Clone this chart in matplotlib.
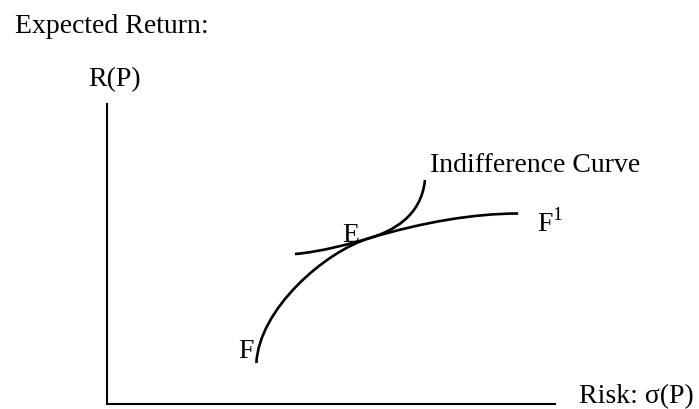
import matplotlib
matplotlib.use("Agg")
import matplotlib.pyplot as plt
from matplotlib.path import Path
from matplotlib.patches import PathPatch

plt.rcParams['font.family'] = ['Liberation Serif', 'DejaVu Serif']
plt.rcParams['mathtext.fontset'] = 'custom'
plt.rcParams['mathtext.rm'] = 'Liberation Serif'

# efficient frontier F -> E -> F1 (bezier control points, risk / return units)
frontier_x = [3.34, 3.40, 4.87, 5.87, 7.07, 8.20, 9.18]
frontier_y = [0.82, 1.90, 3.05, 3.32, 3.64, 3.81, 3.81]

# indifference curve, touching the frontier at E
indiff_x = [4.20, 4.75, 5.47, 5.87, 6.37, 7.02, 7.10]
indiff_y = [3.00, 3.04, 3.21, 3.32, 3.455, 3.75, 4.48]

labels = ["F", "E", "F$^{1}$", "Indifference Curve"]
label_x = [2.93, 5.25, 9.60, 7.21]
label_y = [0.92, 3.25, 3.44, 4.64]

fig = plt.figure(figsize=(6.99, 4.09), dpi=100)
ax = fig.add_axes([0.1526, 0.0122, 0.6413, 0.7335])
ax.set_xlim(0, 10)
ax.set_ylim(0, 6)
ax.spines['top'].set_visible(False)
ax.spines['right'].set_visible(False)
ax.spines['left'].set_linewidth(1.5)
ax.spines['bottom'].set_linewidth(1.5)
ax.set_xticks([])
ax.set_yticks([])

codes = [Path.MOVETO] + [Path.CURVE4] * 6
for xs, ys in [(frontier_x, frontier_y), (indiff_x, indiff_y)]:
    p = Path(list(zip(xs, ys)), codes)
    ax.add_patch(PathPatch(p, facecolor='none', edgecolor='black', lw=1.9,
                           clip_on=False))

for t, x, y in zip(labels, label_x, label_y):
    ax.text(x, y, t, fontsize=20, va='baseline', ha='left', clip_on=False)

fig.text(0.0215, 0.9193, "Expected Return:", fontsize=20, va='baseline')
fig.text(0.1259, 0.7897, "R(P)", fontsize=20, va='baseline')
fig.text(0.8283, 0.0147, "Risk: σ(P)", fontsize=20, va='baseline')

fig.savefig("out.png", dpi=100)
